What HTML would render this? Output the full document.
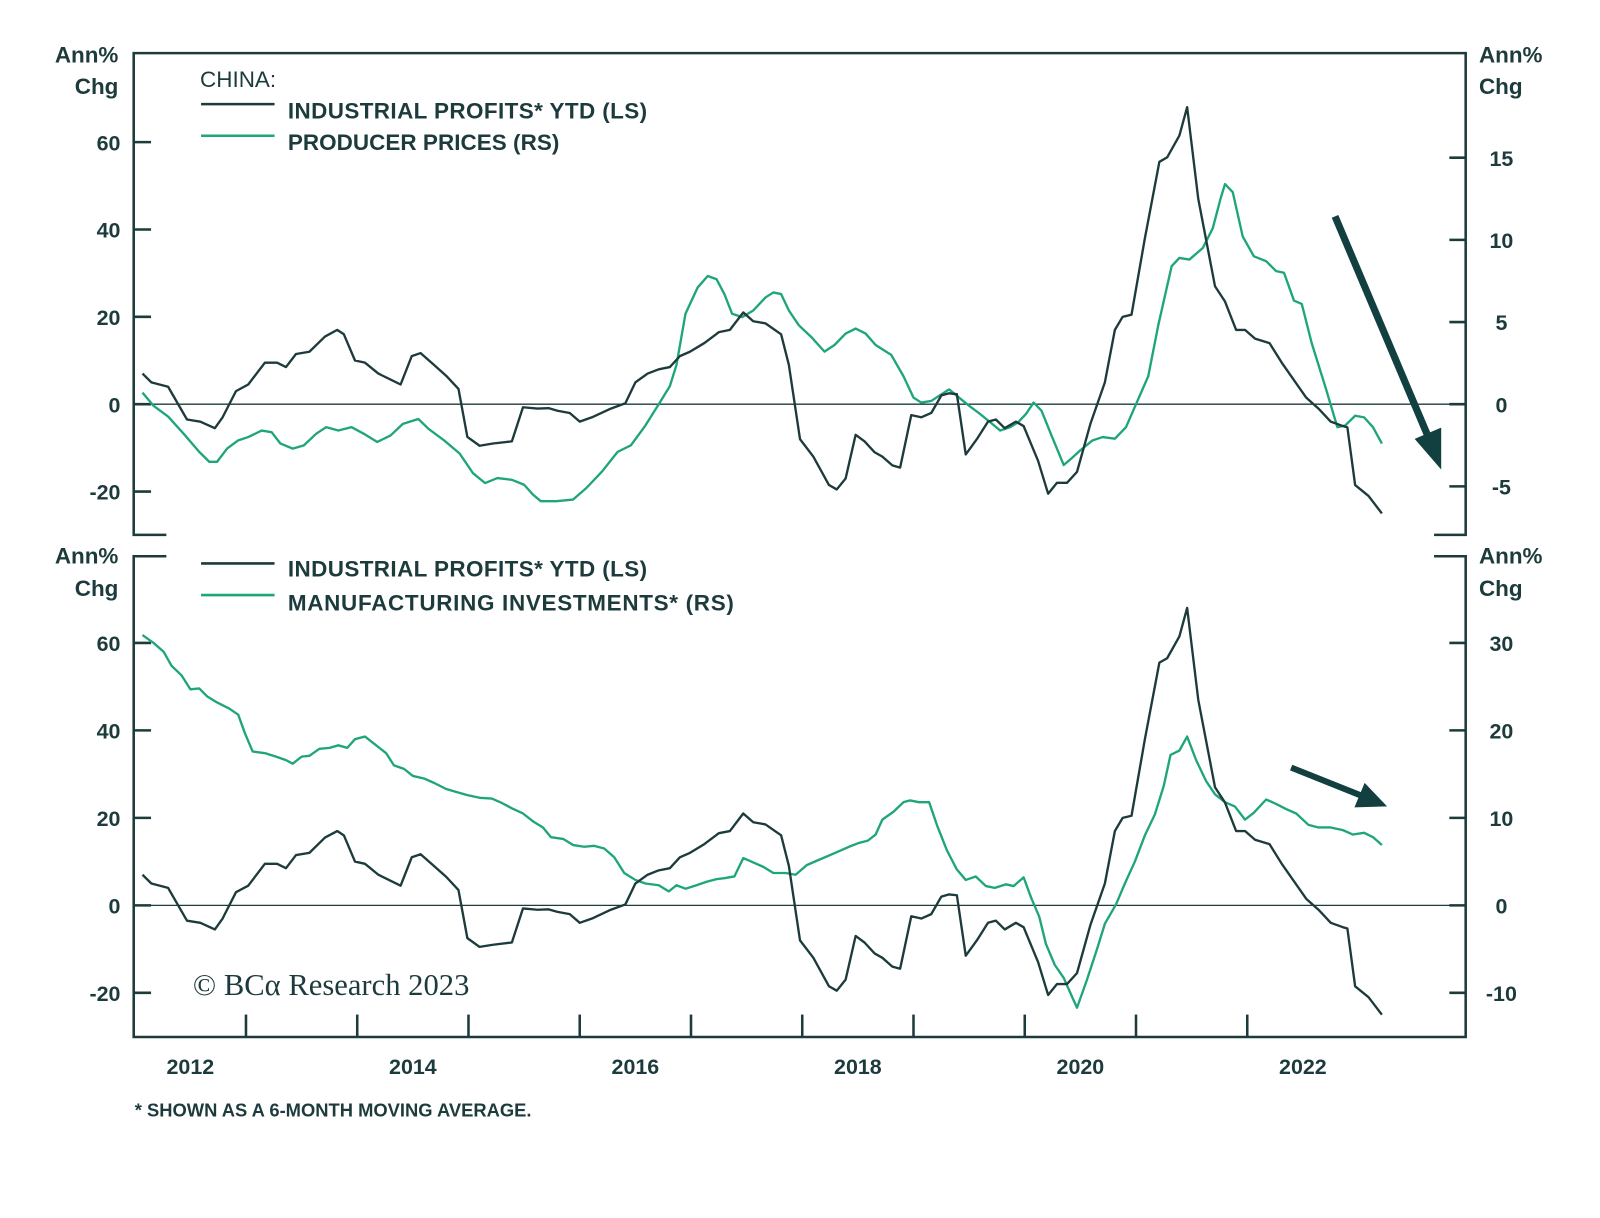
<!DOCTYPE html>
<html><head><meta charset="utf-8"><style>
html,body{margin:0;padding:0;background:#fff;}
svg{display:block;}
text{font-family:"Liberation Sans",sans-serif;fill:#1d3b3c;}
</style></head><body>
<svg id="chart" width="1600" height="1218" viewBox="0 0 1567.6 1193.3" xmlns="http://www.w3.org/2000/svg">
<g id="frame" stroke="#1d3b3c" stroke-width="2.5" fill="none">
 <path d="M163,524 H131 V52 H1436 V524 H1405"/>
 <path d="M163,545 H131 V1016 H1436 V545 H1405"/>
</g>
<g id="top-legend" font-weight="bold" font-size="22">
 <text x="196" y="85" font-weight="normal" font-size="22">CHINA:</text>
 <line x1="197" y1="102" x2="269" y2="102" stroke="#1d3b3c" stroke-width="2.5"/>
 <text x="282" y="116" textLength="352">INDUSTRIAL PROFITS* YTD (LS)</text>
 <line x1="197" y1="133" x2="269" y2="133" stroke="#1fa57c" stroke-width="2.5"/>
 <text x="282" y="147" textLength="266">PRODUCER PRICES (RS)</text>
</g>
<g id="bottom-legend" font-weight="bold" font-size="22">
 <line x1="197" y1="552" x2="269" y2="552" stroke="#1d3b3c" stroke-width="2.5"/>
 <text x="282" y="565" textLength="352">INDUSTRIAL PROFITS* YTD (LS)</text>
 <line x1="197" y1="583" x2="269" y2="583" stroke="#1fa57c" stroke-width="2.5"/>
 <text x="282" y="598" textLength="437">MANUFACTURING INVESTMENTS* (RS)</text>
</g>
<g id="axes-titles" font-weight="bold" font-size="22">
 <text x="116" y="61" text-anchor="end">Ann%</text>
 <text x="116" y="92" text-anchor="end">Chg</text>
 <text x="1449" y="61">Ann%</text>
 <text x="1449" y="92">Chg</text>
 <text x="116" y="552" text-anchor="end">Ann%</text>
 <text x="116" y="584" text-anchor="end">Chg</text>
 <text x="1449" y="552">Ann%</text>
 <text x="1449" y="584">Chg</text>
</g>
<text x="189" y="975" font-size="30" style="font-family:'Liberation Serif',serif">© BCα Research 2023</text>
<text x="132" y="1094" font-size="18" font-weight="bold">* SHOWN AS A 6-MONTH MOVING AVERAGE.</text>
<g id="arrows">
 <line x1="1308" y1="212" x2="1401" y2="432" stroke="#123f3f" stroke-width="7"/>
 <polygon points="1412,460 1386,430 1412,419" fill="#123f3f"/>
 <line x1="1265" y1="752" x2="1335" y2="780" stroke="#123f3f" stroke-width="6"/>
 <polygon points="1359,790 1327,791 1337,767" fill="#123f3f"/>
</g>
<g id="plot"></g>
</svg>
<script>
// Dates are years since Jan 2012
const profitDates=[.07,.15,.30,.47,.59,.72,.79,.91,1.02,1.17,1.28,1.36,1.45,1.57,1.71,1.82,1.88,1.98,2.07,2.19,2.39,2.49,2.57,2.69,2.80,2.91,2.99,3.10,3.22,3.39,3.49,3.62,3.72,3.80,3.91,4.00,4.11,4.28,4.41,4.50,4.61,4.71,4.81,4.90,4.99,5.12,5.25,5.35,5.47,5.56,5.67,5.81,5.88,5.98,6.10,6.24,6.31,6.39,6.48,6.56,6.65,6.72,6.81,6.88,6.98,7.07,7.16,7.25,7.32,7.39,7.47,7.57,7.67,7.74,7.82,7.92,7.99,8.12,8.21,8.29,8.38,8.47,8.59,8.72,8.81,8.88,8.96,9.08,9.21,9.28,9.39,9.46,9.56,9.71,9.80,9.90,9.98,10.07,10.20,10.31,10.42,10.53,10.64,10.75,10.86,10.90,10.97,11.09,11.21];
const profitValues=[7,5,4,-3.5,-4,-5.5,-3,3,4.5,9.5,9.5,8.5,11.5,12,15.5,17,16,10,9.5,7,4.5,11,11.7,9,6.5,3.5,-7.5,-9.5,-9,-8.5,-0.7,-1,-0.9,-1.5,-2,-4,-3,-1,0.2,5,7,8,8.5,11,12,14,16.5,17,21,19,18.5,16,9,-8,-12,-18.5,-19.5,-17,-7,-8.5,-11,-12,-14,-14.5,-2.5,-3,-2,2,2.5,2.3,-11.5,-8,-4,-3.5,-5.5,-4,-5,-13,-20.5,-18,-18,-15.5,-4.5,5,17,20,20.5,38,55.5,56.5,61.5,68,47,27,23.5,17,17,15,14,9.5,5.5,1.5,-1,-4,-5,-5.3,-18.5,-21,-25];
const ppiDates=[.07,.17,.30,.44,.58,.67,.74,.83,.93,1.02,1.14,1.23,1.31,1.42,1.52,1.63,1.72,1.83,1.95,2.06,2.18,2.30,2.41,2.55,2.64,2.78,2.92,3.04,3.15,3.26,3.39,3.50,3.58,3.65,3.79,3.94,4.06,4.20,4.34,4.46,4.59,4.71,4.81,4.87,4.95,5.06,5.15,5.23,5.30,5.37,5.46,5.56,5.67,5.74,5.81,5.88,5.97,6.08,6.20,6.29,6.39,6.48,6.57,6.66,6.80,6.91,7.00,7.07,7.16,7.25,7.32,7.41,7.50,7.60,7.69,7.78,7.87,7.94,8.01,8.08,8.15,8.24,8.35,8.42,8.50,8.61,8.70,8.81,8.91,9.00,9.11,9.20,9.32,9.39,9.48,9.60,9.69,9.76,9.80,9.87,9.96,10.06,10.17,10.26,10.33,10.42,10.49,10.58,10.70,10.81,10.88,10.97,11.05,11.13,11.21];
const ppiValues=[0.7,-0.1,-0.75,-1.8,-2.9,-3.5,-3.5,-2.7,-2.2,-2,-1.6,-1.7,-2.4,-2.7,-2.5,-1.8,-1.4,-1.6,-1.4,-1.8,-2.3,-1.9,-1.2,-0.9,-1.5,-2.2,-3,-4.2,-4.8,-4.5,-4.6,-4.9,-5.5,-5.9,-5.9,-5.8,-5.1,-4.1,-2.9,-2.5,-1.3,0,1.1,2.4,5.5,7.1,7.8,7.6,6.7,5.5,5.3,5.7,6.5,6.8,6.7,5.7,4.8,4.1,3.2,3.6,4.3,4.6,4.3,3.6,3,1.7,0.4,0.1,0.2,0.6,0.9,0.4,-0.1,-0.6,-1.1,-1.6,-1.4,-1.1,-0.6,0.1,-0.4,-1.9,-3.7,-3.3,-2.8,-2.2,-2,-2.1,-1.4,0,1.7,4.8,8.4,8.9,8.8,9.5,10.7,12.5,13.4,12.9,10.2,9,8.7,8.1,8,6.3,6.1,3.7,1.1,-1.4,-1.3,-0.7,-0.8,-1.4,-2.4];
const invDates=[.07,.17,.26,.33,.42,.50,.58,.65,.74,.85,.93,.99,1.06,1.17,1.27,1.36,1.42,1.50,1.57,1.66,1.75,1.83,1.91,1.98,2.07,2.17,2.26,2.33,2.42,2.50,2.60,2.69,2.80,2.88,2.99,3.10,3.21,3.30,3.39,3.49,3.58,3.67,3.74,3.85,3.94,4.04,4.13,4.22,4.31,4.40,4.50,4.59,4.71,4.80,4.87,4.95,5.05,5.14,5.23,5.30,5.39,5.47,5.56,5.65,5.74,5.85,5.94,6.04,6.13,6.24,6.33,6.42,6.50,6.59,6.66,6.72,6.82,6.91,6.97,7.05,7.14,7.21,7.30,7.39,7.47,7.56,7.65,7.73,7.83,7.90,7.99,8.06,8.13,8.19,8.27,8.35,8.42,8.47,8.56,8.65,8.72,8.82,8.90,8.99,9.08,9.17,9.25,9.31,9.39,9.46,9.54,9.63,9.71,9.80,9.89,9.98,10.06,10.17,10.26,10.35,10.44,10.55,10.64,10.75,10.86,10.95,11.05,11.13,11.21];
const invValues=[30.9,30,29,27.4,26.3,24.7,24.8,23.9,23.2,22.5,21.8,19.7,17.6,17.4,17,16.6,16.2,17,17.1,17.9,18,18.3,18,19,19.3,18.3,17.4,16,15.6,14.8,14.5,14,13.3,13,12.6,12.3,12.2,11.7,11.1,10.5,9.6,8.9,7.8,7.6,6.9,6.7,6.8,6.5,5.5,3.7,2.9,2.5,2.3,1.6,2.3,1.9,2.3,2.7,3,3.1,3.3,5.4,4.9,4.4,3.7,3.7,3.5,4.6,5.1,5.7,6.2,6.7,7.1,7.4,8.1,9.8,10.7,11.8,12,11.8,11.8,9.2,6.3,4.1,2.9,3.3,2.2,2,2.4,2.2,3.2,0.8,-1.3,-4.4,-6.8,-8.3,-10.3,-11.7,-8.5,-5,-2.1,0.1,2.5,5,8,10.4,13.7,17.2,17.7,19.3,16.6,14.2,12.7,11.8,11.3,9.8,10.6,12.1,11.6,11,10.5,9.2,8.9,8.9,8.6,8.1,8.3,7.8,6.9];
const yearLabels=["2012","2014","2016","2018","2020","2022"];
const topLeftTicks=[60,40,20,0,-20];
const topRightTicks=[15,10,5,0,-5];
const botLeftTicks=[60,40,20,0,-20];
const botRightTicks=[30,20,10,0,-10];

const NS="http://www.w3.org/2000/svg";
const plot=document.getElementById('plot');
const X=t=>132+t*109;
const topL=v=>396-v*4.28, topR=v=>396-v*16.1;
const botL=v=>887-v*4.285, botR=v=>887-v*8.57;
function mk(tag,attrs){const e=document.createElementNS(NS,tag);for(const k in attrs)e.setAttribute(k,attrs[k]);plot.appendChild(e);return e;}
function line(dates,vals,fy,color,name){
  const d=dates.map((t,i)=>(i?'L':'M')+X(t).toFixed(1)+','+fy(vals[i]).toFixed(1)).join('');
  const p=mk('path',{d:d,fill:'none',stroke:color,'stroke-width':2.3,'stroke-linejoin':'round'});
  
  
}
const z1=mk('line',{x1:131,x2:1436,y1:topL(0),y2:topL(0),stroke:'#1d3b3c','stroke-width':1.3});


const z2=mk('line',{x1:131,x2:1436,y1:botL(0),y2:botL(0),stroke:'#1d3b3c','stroke-width':1.3});


function ticks(vals,fy,side,name){
  vals.forEach(v=>{
    const y=fy(v);
    const x1=side==='L'?131:1420, x2=side==='L'?148:1436;
    const l=mk('line',{x1:x1,x2:x2,y1:y,y2:y,stroke:'#1d3b3c','stroke-width':2.5});
    
    
    const t=mk('text',{x:side==='L'?118:1471,y:y+8,'text-anchor':side==='L'?'end':'middle','font-size':21,'font-weight':'bold'});
    t.textContent=v;
    
    
  });
}
ticks(topLeftTicks,topL,'L','top-left-axis');
ticks(topRightTicks,topR,'R','top-right-axis');
ticks(botLeftTicks,botL,'L','bottom-left-axis');
ticks(botRightTicks,botR,'R','bottom-right-axis');
for(let yr=1;yr<=10;yr++){
  const l=mk('line',{x1:X(yr),x2:X(yr),y1:1016,y2:994,stroke:'#1d3b3c','stroke-width':2.5});
  
  
}
yearLabels.forEach(s=>{
  const t=mk('text',{x:X(+s-2012+0.5),y:1052,'text-anchor':'middle','font-size':21,'font-weight':'bold'});
  t.textContent=s;
  
  
});
line(ppiDates,ppiValues,topR,'#1fa57c','producer-prices-line');
line(profitDates,profitValues,topL,'#1d3b3c','industrial-profits-line-top');
line(invDates,invValues,botR,'#1fa57c','manufacturing-investment-line');
line(profitDates,profitValues,botL,'#1d3b3c','industrial-profits-line-bottom');
</script>
</body></html>
